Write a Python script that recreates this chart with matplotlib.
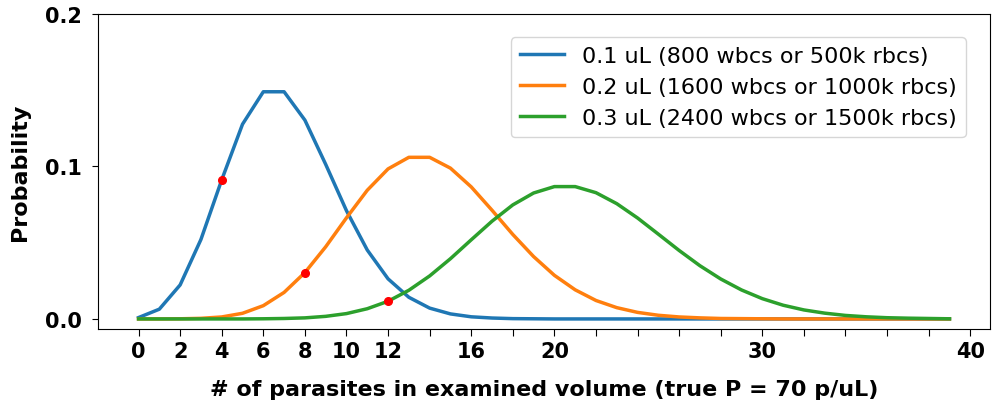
import matplotlib
matplotlib.use("Agg")
import matplotlib.pyplot as plt

k = list(range(40))
p_01 = [0.0009, 0.0064, 0.0223, 0.0521, 0.0912, 0.1277, 0.1490, 0.1490, 0.1304, 0.1014,
        0.0710, 0.0452, 0.0263, 0.0142, 0.0071, 0.0033, 0.0014, 0.0006, 0.0002, 0.0001,
        0.0000, 0.0000, 0.0000, 0.0000, 0.0000, 0.0000, 0.0000, 0.0000, 0.0000, 0.0000,
        0.0000, 0.0000, 0.0000, 0.0000, 0.0000, 0.0000, 0.0000, 0.0000, 0.0000, 0.0000]
p_02 = [0.0000, 0.0000, 0.0001, 0.0004, 0.0013, 0.0037, 0.0087, 0.0174, 0.0304, 0.0473,
        0.0663, 0.0844, 0.0984, 0.1060, 0.1060, 0.0989, 0.0866, 0.0713, 0.0554, 0.0409,
        0.0286, 0.0191, 0.0121, 0.0074, 0.0043, 0.0024, 0.0013, 0.0007, 0.0003, 0.0002,
        0.0001, 0.0000, 0.0000, 0.0000, 0.0000, 0.0000, 0.0000, 0.0000, 0.0000, 0.0000]
p_03 = [0.0000, 0.0000, 0.0000, 0.0000, 0.0000, 0.0000, 0.0001, 0.0003, 0.0007, 0.0017,
        0.0035, 0.0067, 0.0116, 0.0188, 0.0282, 0.0395, 0.0519, 0.0641, 0.0748, 0.0826,
        0.0868, 0.0868, 0.0828, 0.0756, 0.0662, 0.0556, 0.0449, 0.0349, 0.0262, 0.0190,
        0.0133, 0.0090, 0.0059, 0.0038, 0.0023, 0.0014, 0.0008, 0.0005, 0.0003, 0.0001]
labels = ["0.1 uL (800 wbcs or 500k rbcs)",
          "0.2 uL (1600 wbcs or 1000k rbcs)",
          "0.3 uL (2400 wbcs or 1500k rbcs)"]
dot_x = [4, 8, 12]
dot_y = [0.0912, 0.0304, 0.0116]
xtick_pos = list(range(0, 41, 2))
xtick_lab = ["0", "2", "4", "6", "8", "10", "12", "", "16", "", "20", "", "", "", "", "30",
             "", "", "", "", "40"]
ytick_pos = [0.0, 0.1, 0.2]
ytick_lab = ["0.0", "0.1", "0.2"]

fig = plt.figure(figsize=(9.92, 4.02), dpi=100)
ax = fig.add_axes([98/992, 1 - 330/402, (990-98)/992, (330-15)/402])
for y, lab in zip([p_01, p_02, p_03], labels):
    ax.plot(k, y, lw=2.5, label=lab)
ax.plot(dot_x, dot_y, 'o', color='red', ms=5.5, zorder=5)
ax.set_xlim(-1.95, 40.95)
ax.set_ylim(-0.0066, 0.2)
ax.set_xticks(xtick_pos)
ax.set_xticklabels(xtick_lab, fontsize=15, fontweight='bold')
ax.set_yticks(ytick_pos)
ax.set_yticklabels(ytick_lab, fontsize=15, fontweight='bold')
ax.tick_params(axis='x', length=4.8, pad=3.5)
ax.tick_params(axis='y', length=4.5, pad=7)
ax.set_xlabel("# of parasites in examined volume (true P = 70 p/uL)", fontsize=16,
              fontweight='bold', labelpad=13)
ax.set_ylabel("Probability", fontsize=16, fontweight='bold', labelpad=11)
ax.legend(loc='upper right', fontsize=16, bbox_to_anchor=(0.985, 0.962))
fig.savefig("out.png", dpi=100)
